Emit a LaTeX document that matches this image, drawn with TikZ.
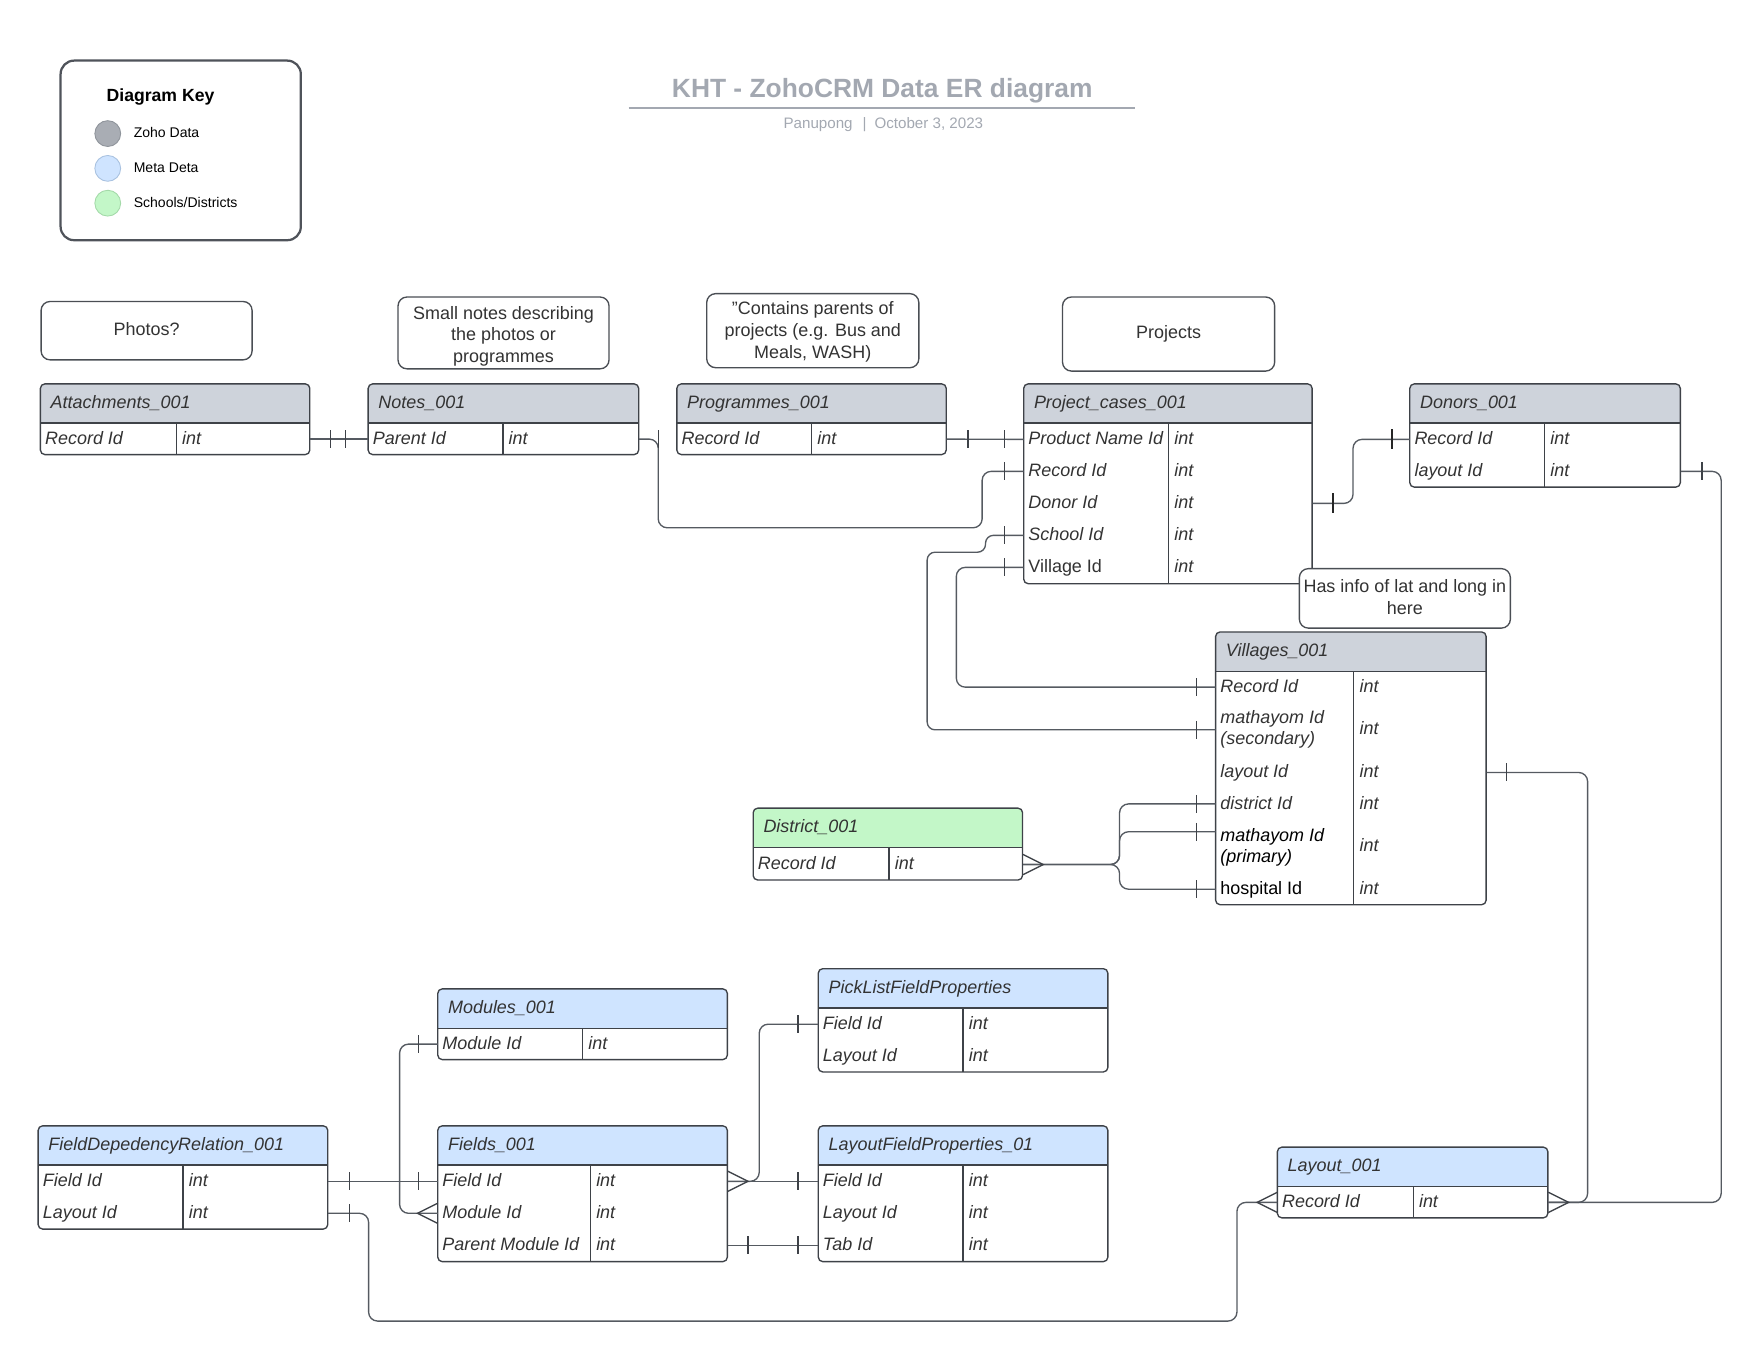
\documentclass[tikz,border=0pt]{standalone}
\usepackage{fontspec}
\setmainfont{Liberation Sans}
\usetikzlibrary{calc}
\definecolor{zoho}{HTML}{CED3DB}
\definecolor{keygray}{HTML}{A9ADB4}
\definecolor{keygrayd}{HTML}{8F949B}
\definecolor{meta}{HTML}{CFE4FF}
\definecolor{metad}{HTML}{A9C2E0}
\definecolor{school}{HTML}{C3F7C8}
\definecolor{schoold}{HTML}{A4DAA9}
\definecolor{txt}{HTML}{333333}
\definecolor{entl}{HTML}{3E4248}
\definecolor{connc}{HTML}{555A61}
\definecolor{mkc}{HTML}{3E4248}
\definecolor{notel}{HTML}{4A4E54}
\definecolor{titlec}{HTML}{A3A8B1}
\definecolor{keyl}{HTML}{4F535A}

\newcommand{\erbox}[8]{%
 \fill[white, rounded corners=4] (#2,#3) rectangle ++(#4,#5);
 \fill[#6, rounded corners=4] (#2,#3) rectangle ++(#4,35);
 \fill[#6] (#2,#3+25) rectangle ++(#4,10);
 \draw[entline] (#2,#3+35) -- ++(#4,0);
 \draw[entline] (#8,#3+35) -- (#8,#3+#5);
 \draw[entline, rounded corners=4] (#2,#3) rectangle ++(#4,#5);
 \node[inner sep=0, minimum width=#4, minimum height=#5, anchor=north west] (#1) at (#2,#3) {};
 \node[ttl, anchor=west] (#1-t) at (#2+9,#3+16) {#7};
}
\newcommand{\errow}[8]{%
 \node[inner sep=0, minimum width=#4, minimum height=#5, anchor=north west] (#1) at (#2,#3) {};
 \node[ftxt, anchor=west] (#1-f) at (#2+4,#3+#5/2-1) {#7};
 \node[ftxt, anchor=west] (#1-y) at (#6+5,#3+#5/2-1) {#8};
}
\newcommand{\erbar}[1]{\draw[mk] ($#1+(0,-8)$) -- ($#1+(0,8)$);}
\newcommand{\erbarb}[1]{\draw[mkb] ($#1+(0,-9)$) -- ($#1+(0,9)$);}
\newcommand{\ercrowE}[1]{\draw[mk] ($#1+(0,-9)$) -- ($#1+(18,0)$) -- ($#1+(0,9)$);}
\newcommand{\ercrowW}[1]{\draw[mk] ($#1+(0,-9)$) -- ($#1+(-18,0)$) -- ($#1+(0,9)$);}

\begin{document}
\begin{tikzpicture}[x=1pt,y=-1pt,
  entline/.style={draw=entl, line width=1.2},
  conn/.style={draw=connc, line width=1.2, rounded corners=8},
  mk/.style={draw=mkc, line width=1.2},
  mkb/.style={draw=black!85, line width=2.2},
  ttl/.style={font=\fontsize{16}{19}\selectfont\itshape, text=txt, inner sep=0, text height=11.5, text depth=0},
  ftxt/.style={font=\fontsize{16}{19}\selectfont\itshape, text=txt, inner sep=0, text height=11.5, text depth=0},
  ftxttwo/.style={font=\fontsize{16}{19}\selectfont\itshape, text=txt, inner sep=0, align=left},
  notebox/.style={draw=notel, line width=1.2, rounded corners=8, fill=white, inner sep=0},
  notetxt/.style={align=center, font=\fontsize{16}{19.5}\selectfont, text=txt, inner sep=0},
  keydot/.style={circle, minimum size=23, inner sep=0, line width=0.8},
  keylab/.style={anchor=west, font=\fontsize{12.5}{15}\selectfont, text=black, inner sep=0},
]
\useasboundingbox (0,0) rectangle (1568,1212);

% ---------- key ----------
\node[draw=keyl, line width=2, rounded corners=12, minimum width=214, minimum height=160, anchor=north west, inner sep=0] (key) at (53,53) {};
\node[font=\fontsize{15.7}{18}\selectfont\bfseries, text=black, inner sep=0] (key-t) at (143,86) {Diagram Key};
\node[keydot, fill=keygray, draw=keygrayd] (k1) at (96,119) {};
\node[keydot, fill=meta, draw=metad] (k2) at (96,150) {};
\node[keydot, fill=school, draw=schoold] (k3) at (96,181) {};
\node[keylab] (k1l) at (119,118) {Zoho Data};
\node[keylab] (k2l) at (119,149) {Meta Deta};
\node[keylab] (k3l) at (119,180) {Schools/Districts};

% ---------- title ----------
\node[font=\fontsize{23.5}{27}\selectfont\bfseries, text=titlec, inner sep=0] (title) at (786,81) {KHT - ZohoCRM Data ER diagram};
\draw[titlec, line width=1.5] (560,96) -- (1011,96);
\node[font=\fontsize{13.5}{15}\selectfont, text=titlec, inner sep=0] (subtitle) at (787,111) {Panupong\hspace{9pt}|\hspace{7pt}October 3, 2023};

% ---------- entities ----------
\erbox{att}{36}{342}{240}{63}{zoho}{Attachments\_001}{157}
\errow{att-1}{36}{377}{240}{28}{157}{Record Id}{int}

\erbox{notes}{328}{342}{241}{63}{zoho}{Notes\_001}{448}
\errow{notes-1}{328}{377}{241}{28}{448}{Parent Id}{int}

\erbox{prog}{603}{342}{240}{63}{zoho}{Programmes\_001}{723}
\errow{prog-1}{603}{377}{240}{28}{723}{Record Id}{int}

\erbox{pc}{912}{342}{257}{178}{zoho}{Project\_cases\_001}{1041}
\errow{pc-1}{912}{377}{257}{28.5}{1041}{Product Name Id}{int}
\errow{pc-2}{912}{405.5}{257}{28.5}{1041}{Record Id}{int}
\errow{pc-3}{912}{434}{257}{28.5}{1041}{Donor Id}{int}
\errow{pc-4}{912}{462.5}{257}{28.5}{1041}{School Id}{int}
\errow{pc-5}{912}{491}{257}{28.5}{1041}{\upshape Village Id}{int}

\erbox{don}{1256}{342}{241}{92}{zoho}{Donors\_001}{1376}
\errow{don-1}{1256}{377}{241}{28.5}{1376}{Record Id}{int}
\errow{don-2}{1256}{405.5}{241}{28.5}{1376}{layout Id}{int}

\erbox{vil}{1083}{563}{241}{243}{zoho}{Villages\_001}{1206}
\errow{vil-1}{1083}{598}{241}{28}{1206}{Record Id}{int}
\errow{vil-2}{1083}{626}{241}{48}{1206}{}{int}
\node[ftxttwo, anchor=west] (vil-2-l) at (1087,650) {mathayom Id\\(secondary)};
\errow{vil-3}{1083}{674}{241}{28}{1206}{layout Id}{int}
\errow{vil-4}{1083}{702}{241}{28}{1206}{district Id}{int}
\errow{vil-5}{1083}{730}{241}{48}{1206}{}{int}
\node[ftxttwo, anchor=west, text=black] (vil-5-l) at (1087,755) {mathayom Id\\(primary)};
\errow{vil-6}{1083}{778}{241}{28}{1206}{\upshape\color{black}hospital Id}{int}
\coordinate (vil-5p) at ($(vil-5.north west)+(0,11)$);

\erbox{dis}{671}{720}{240}{64}{school}{District\_001}{792}
\errow{dis-1}{671}{756}{240}{28}{792}{Record Id}{int}

\erbox{mod}{390}{881}{258}{63}{meta}{Modules\_001}{519}
\errow{mod-1}{390}{916}{258}{28}{519}{Module Id}{int}

\erbox{pl}{729}{863}{258}{92}{meta}{PickListFieldProperties}{858}
\errow{pl-1}{729}{898}{258}{28.5}{858}{Field Id}{int}
\errow{pl-2}{729}{926.5}{258}{28.5}{858}{Layout Id}{int}

\erbox{fdr}{34}{1003}{258}{92}{meta}{FieldDepedencyRelation\_001}{163}
\errow{fdr-1}{34}{1038}{258}{28.5}{163}{Field Id}{int}
\errow{fdr-2}{34}{1066.5}{258}{28.5}{163}{Layout Id}{int}

\erbox{fld}{390}{1003}{258}{121}{meta}{Fields\_001}{526}
\errow{fld-1}{390}{1038}{258}{28.5}{526}{Field Id}{int}
\errow{fld-2}{390}{1066.5}{258}{28.5}{526}{Module Id}{int}
\errow{fld-3}{390}{1095}{258}{28.5}{526}{Parent Module Id}{int}

\erbox{lfp}{729}{1003}{258}{121}{meta}{LayoutFieldProperties\_01}{858}
\errow{lfp-1}{729}{1038}{258}{28.5}{858}{Field Id}{int}
\errow{lfp-2}{729}{1066.5}{258}{28.5}{858}{Layout Id}{int}
\errow{lfp-3}{729}{1095}{258}{28.5}{858}{Tab Id}{int}

\erbox{lay}{1138}{1022}{241}{63}{meta}{Layout\_001}{1259}
\errow{lay-1}{1138}{1057}{241}{28}{1259}{Record Id}{int}

% ---------- connectors ----------
\draw[conn] (att-1.east) -- (notes-1.west);
\erbar{(att-1.east)+(18,0)} \erbar{(notes-1.west)+(-20,0)}

\draw[conn] (notes-1.east) -- ++(17,0) -- ++(0,79) -| ($(pc-2.west)+(-37,0)$) -- (pc-2.west);
\erbar{(notes-1.east)+(17,0)} \erbar{(pc-2.west)+(-17,0)}

\draw[conn] (prog-1.east) -- (pc-1.west);
\erbar{(prog-1.east)+(19,0)} \erbar{(pc-1.west)+(-17,0)}

\draw[conn] (pc-3.east) -- ++(36,0) |- (don-1.west);
\erbarb{(pc-3.east)+(18,0)} \erbarb{(don-1.west)+(-16,0)}

\draw[conn, rounded corners=7] (pc-4.west) -- ++(-34,0) -- ++(0,15) -| ($(vil-2.west)+(-257,0)$) -- (vil-2.west);
\erbar{(pc-4.west)+(-17,0)} \erbar{(vil-2.west)+(-17,0)}

\draw[conn] (pc-5.west) -- ++(-60,0) |- (vil-1.west);
\erbar{(pc-5.west)+(-17,0)} \erbar{(vil-1.west)+(-17,0)}

\draw[conn] (don-2.east) -- ++(36,0) |- (lay-1.east);
\erbar{(don-2.east)+(19,0)}
\draw[conn] (vil-3.east) -- ++(90,0) |- (lay-1.east);
\erbar{(vil-3.east)+(18,0)}
\ercrowE{(lay-1.east)}

\draw[conn] (dis-1.east) -- ++(86,0) |- (vil-4.west);
\draw[conn] (dis-1.east) -- ++(86,0) |- (vil-5p);
\draw[conn] (dis-1.east) -- ++(86,0) |- (vil-6.west);
\erbar{(vil-4.west)+(-17,0)} \erbar{(vil-5p)+(-17,0)} \erbar{(vil-6.west)+(-17,0)}
\ercrowE{(dis-1.east)}

\draw[conn] (mod-1.west) -- ++(-34,0) |- (fld-2.west);
\erbar{(mod-1.west)+(-17,0)}
\ercrowW{(fld-2.west)}

\draw[conn] (fdr-1.east) -- (fld-1.west);
\erbar{(fdr-1.east)+(19,0)} \erbar{(fld-1.west)+(-17,0)}

\draw[conn] (fdr-2.east) -- ++(36,0) -- ++(0,96) -| ($(lay-1.west)+(-36,0)$) -- (lay-1.west);
\erbar{(fdr-2.east)+(19,0)}
\ercrowW{(lay-1.west)}

\draw[conn] (fld-1.east) -- (lfp-1.west);
\draw[conn] (fld-1.east) -- ++(28,0) |- (pl-1.west);
\ercrowE{(fld-1.east)}
\erbar{(lfp-1.west)+(-18,0)} \erbar{(pl-1.west)+(-18,0)}

\draw[conn] (fld-3.east) -- (lfp-3.west);
\erbar{(fld-3.east)+(18,0)} \erbar{(lfp-3.west)+(-18,0)}

% ---------- notes ----------
\node[notebox, minimum width=188, minimum height=52, anchor=north west] (n-photos) at (36,268) {};
\node[notetxt] (n-photos-t) at ($(n-photos.center)+(0,-1)$) {Photos?};
\node[notebox, minimum width=188, minimum height=64, anchor=north west] (n-notes) at (354,264) {};
\node[notetxt] (n-notes-t) at ($(n-notes.center)+(0,3)$) {Small notes describing\\the photos or\\programmes};
\node[notebox, minimum width=189, minimum height=66, anchor=north west] (n-prog) at (629,261) {};
\node[notetxt] (n-prog-t) at ($(n-prog.center)+(0,1)$) {"Contains parents of\\projects (e.g. Bus and\\Meals, WASH)};
\node[notebox, minimum width=189, minimum height=66, anchor=north west] (n-proj) at (946,264) {};
\node[notetxt] (n-proj-t) at (n-proj.center) {Projects};
\node[notebox, minimum width=188, minimum height=53, anchor=north west] (n-info) at (1157,506) {};
\node[notetxt] (n-info-t) at ($(n-info.center)+(0,-1)$) {Has info of lat and long in\\here};
\end{tikzpicture}
\end{document}
